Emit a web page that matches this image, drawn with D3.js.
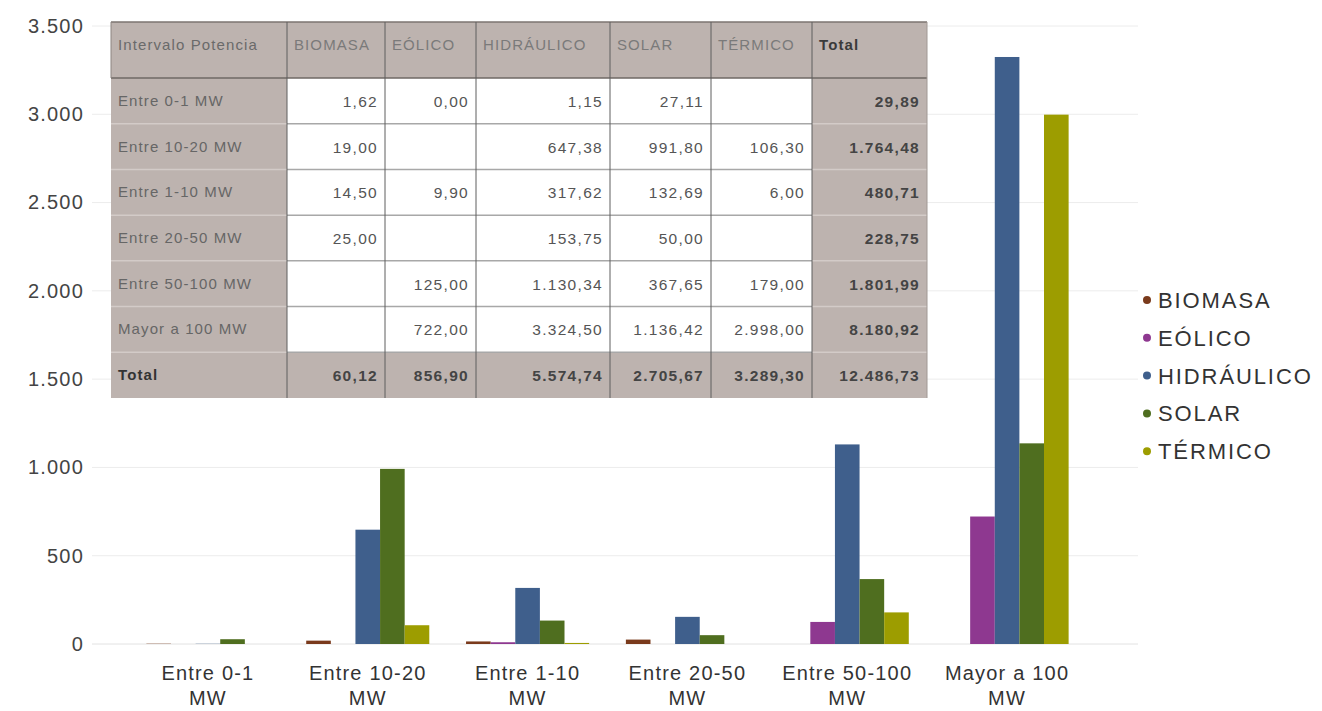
<!DOCTYPE html>
<html>
<head>
<meta charset="utf-8">
<script src="https://cdn.jsdelivr.net/npm/d3@7"></script>
<style>
  html, body { margin: 0; padding: 0; background: #fff; }
  svg { display: block; font-family: "Liberation Sans", Arial, sans-serif; }
</style>
</head>
<body>
<svg id="chart" width="1322" height="711"></svg>
<script>
// ---------------- DATA ----------------
const categories = ["Entre 0-1 MW", "Entre 10-20 MW", "Entre 1-10 MW", "Entre 20-50 MW", "Entre 50-100 MW", "Mayor a 100 MW"];
const seriesNames = ["BIOMASA", "EÓLICO", "HIDRÁULICO", "SOLAR", "TÉRMICO"];
const biomasa    = [1.62, 19.00, 14.50, 25.00, null, null];
const eolico     = [0.00, null, 9.90, null, 125.00, 722.00];
const hidraulico = [1.15, 647.38, 317.62, 153.75, 1130.34, 3324.50];
const solar      = [27.11, 991.80, 132.69, 50.00, 367.65, 1136.42];
const termico    = [null, 106.30, 6.00, null, 179.00, 2998.00];
const rowTotals  = [29.89, 1764.48, 480.71, 228.75, 1801.99, 8180.92];
const colTotals  = [60.12, 856.90, 5574.74, 2705.67, 3289.30];
const grandTotal = 12486.73;
const yTicks     = [0, 500, 1000, 1500, 2000, 2500, 3000, 3500];
const tableHeader = ["Intervalo Potencia", "BIOMASA", "EÓLICO", "HIDRÁULICO", "SOLAR", "TÉRMICO", "Total"];
const totalLabel = "Total";

// ---------------- STYLE ----------------
const seriesColors = ["#7a3a1c", "#8e3890", "#3f5f8c", "#4f6e1f", "#9d9d00"];
const seriesValues = [biomasa, eolico, hidraulico, solar, termico];

const locale = d3.formatLocale({ decimal: ",", thousands: ".", grouping: [3], currency: ["", "€"] });
const fmt2 = locale.format(",.2f");
const fmtInt = locale.format(",d");

const svg = d3.select("#chart");

// ---------------- SCALES ----------------
const y = d3.scaleLinear().domain([0, 3500]).range([644, 26]);
const x0 = d3.scaleBand().domain(categories).range([128, 1087]).paddingInner(0.23).paddingOuter(0.115);
const x1 = d3.scaleBand().domain(seriesNames).range([0, x0.bandwidth()]);
const color = d3.scaleOrdinal().domain(seriesNames).range(seriesColors);

// gridlines
svg.append("g").selectAll("line").data(yTicks).join("line")
  .attr("x1", 92).attr("x2", 1138)
  .attr("y1", d => y(d)).attr("y2", d => y(d))
  .attr("stroke", d => d === 0 ? "#e2e2e2" : "#ececec").attr("stroke-width", 1);

// y axis
const yAxis = svg.append("g").attr("transform", "translate(92,0)")
  .call(d3.axisLeft(y).tickValues(yTicks).tickFormat(fmtInt).tickSize(0).tickPadding(8));
yAxis.select(".domain").remove();
yAxis.selectAll("text")
  .attr("font-family", "'Liberation Sans', Arial, sans-serif")
  .attr("font-size", 20).attr("letter-spacing", "1.2px").attr("fill", "#444");

// bars
const flat = [];
categories.forEach((c, i) => {
  seriesNames.forEach((s, j) => {
    const v = seriesValues[j][i];
    if (v !== null) flat.push({ cat: c, series: s, value: v });
  });
});
svg.append("g").selectAll("rect").data(flat).join("rect")
  .attr("x", d => x0(d.cat) + x1(d.series))
  .attr("width", x1.bandwidth())
  .attr("y", d => y(d.value))
  .attr("height", d => y(0) - y(d.value))
  .attr("fill", d => color(d.series));

// x labels
const xl = svg.append("g").selectAll("text").data(categories).join("text")
  .attr("text-anchor", "middle")
  .attr("x", d => x0(d) + x0.bandwidth() / 2)
  .attr("font-size", 20).attr("letter-spacing", "1.2px").attr("fill", "#333");
xl.each(function(d) {
  const k = d.lastIndexOf(" ");
  const lines = [d.slice(0, k), d.slice(k + 1)];
  const t = d3.select(this);
  t.append("tspan").attr("x", x0(d) + x0.bandwidth() / 2).attr("y", 680).text(lines[0]);
  t.append("tspan").attr("x", x0(d) + x0.bandwidth() / 2).attr("y", 705).text(lines[1]);
});

// legend
const lg = svg.append("g").selectAll("g").data(seriesNames).join("g")
  .attr("transform", (d, i) => `translate(1147,${300 + i * 37.8})`);
lg.append("circle").attr("r", 4).attr("cx", 0).attr("cy", 0).attr("fill", d => color(d));
lg.append("text").attr("x", 11).attr("y", 8).attr("font-size", 22).attr("letter-spacing", "1.9px")
  .attr("fill", "#333").text(d => d);

// ---------------- TABLE (image overlay) ----------------
const tableLeft = 111, tableTop = 22, headerBottom = 78, tableBottom = 398;
const colWidths = [176, 98, 91, 134, 101, 101, 115];
const colEdges = [tableLeft];
colWidths.forEach(w => colEdges.push(colEdges[colEdges.length - 1] + w));
const tableRight = colEdges[colEdges.length - 1];
const rowKeys = categories.concat([totalLabel]);
const rowY = d3.scaleBand().domain(rowKeys).range([headerBottom, tableBottom]);

const tg = svg.append("g");
const gray = "#bdb3af";
tg.append("rect").attr("x", tableLeft).attr("y", tableTop)
  .attr("width", tableRight - tableLeft).attr("height", tableBottom - tableTop).attr("fill", gray);
tg.append("rect").attr("x", colEdges[1]).attr("y", headerBottom)
  .attr("width", colEdges[6] - colEdges[1]).attr("height", rowY(totalLabel) - headerBottom).attr("fill", "#fff");

rowKeys.forEach((r, i) => {
  if (i === 0) return;
  tg.append("line").attr("x1", tableLeft).attr("x2", colEdges[1]).attr("y1", rowY(r)).attr("y2", rowY(r))
    .attr("stroke", "#d3cbc8").attr("stroke-width", 1.5);
  tg.append("line").attr("x1", colEdges[1]).attr("x2", colEdges[6]).attr("y1", rowY(r)).attr("y2", rowY(r))
    .attr("stroke", "#a8a8a8").attr("stroke-width", 1.5);
  tg.append("line").attr("x1", colEdges[6]).attr("x2", tableRight).attr("y1", rowY(r)).attr("y2", rowY(r))
    .attr("stroke", "#d3cbc8").attr("stroke-width", 1.5);
});
tg.append("line").attr("x1", tableLeft).attr("x2", tableRight).attr("y1", tableTop).attr("y2", tableTop)
  .attr("stroke", "#7c7470").attr("stroke-width", 1.5);
tg.append("line").attr("x1", tableLeft).attr("x2", tableRight).attr("y1", headerBottom).attr("y2", headerBottom)
  .attr("stroke", "#6f6864").attr("stroke-width", 1.5);
tg.append("line").attr("x1", tableLeft).attr("x2", tableLeft).attr("y1", tableTop).attr("y2", headerBottom)
  .attr("stroke", "#8d8581").attr("stroke-width", 1);
colEdges.slice(1).forEach((cx, i) => {
  tg.append("line").attr("x1", cx).attr("x2", cx).attr("y1", tableTop).attr("y2", tableBottom)
    .attr("stroke", i === colEdges.length - 2 ? "#a09894" : "#5e5e5e").attr("stroke-width", 1);
});

tableHeader.forEach((h, i) => {
  tg.append("text").attr("x", colEdges[i] + 7).attr("y", 50)
    .attr("font-size", 15).attr("letter-spacing", "1.1px")
    .attr("font-weight", i === 6 ? "bold" : "normal")
    .attr("fill", i === 6 ? "#3a3a3a" : (i === 0 ? "#6a6a6a" : "#7a7a7a"))
    .text(h);
});
rowKeys.forEach((r, i) => {
  tg.append("text").attr("x", tableLeft + 7).attr("y", rowY(r) + rowY.bandwidth() / 2 + 5)
    .attr("font-size", 15).attr("letter-spacing", "1.1px")
    .attr("font-weight", r === totalLabel ? "bold" : "normal")
    .attr("fill", r === totalLabel ? "#333" : "#666")
    .text(r);
});
categories.forEach((c, i) => {
  seriesValues.forEach((arr, j) => {
    const v = arr[i];
    if (v === null) return;
    tg.append("text").attr("x", colEdges[j + 2] - 7).attr("y", rowY(c) + rowY.bandwidth() / 2 + 6)
      .attr("text-anchor", "end").attr("font-size", 15.5).attr("letter-spacing", "1.3px")
      .attr("fill", "#555").text(fmt2(v));
  });
  tg.append("text").attr("x", colEdges[7] - 7).attr("y", rowY(c) + rowY.bandwidth() / 2 + 6)
    .attr("text-anchor", "end").attr("font-size", 15.5).attr("letter-spacing", "1.3px")
    .attr("font-weight", "bold").attr("fill", "#444").text(fmt2(rowTotals[i]));
});
colTotals.forEach((v, j) => {
  tg.append("text").attr("x", colEdges[j + 2] - 7).attr("y", rowY(totalLabel) + rowY.bandwidth() / 2 + 6)
    .attr("text-anchor", "end").attr("font-size", 15.5).attr("letter-spacing", "1.3px")
    .attr("font-weight", "bold").attr("fill", "#444").text(fmt2(v));
});
tg.append("text").attr("x", colEdges[7] - 7).attr("y", rowY(totalLabel) + rowY.bandwidth() / 2 + 6)
  .attr("text-anchor", "end").attr("font-size", 15.5).attr("letter-spacing", "1.3px")
  .attr("font-weight", "bold").attr("fill", "#444").text(fmt2(grandTotal));
</script>
</body>
</html>
